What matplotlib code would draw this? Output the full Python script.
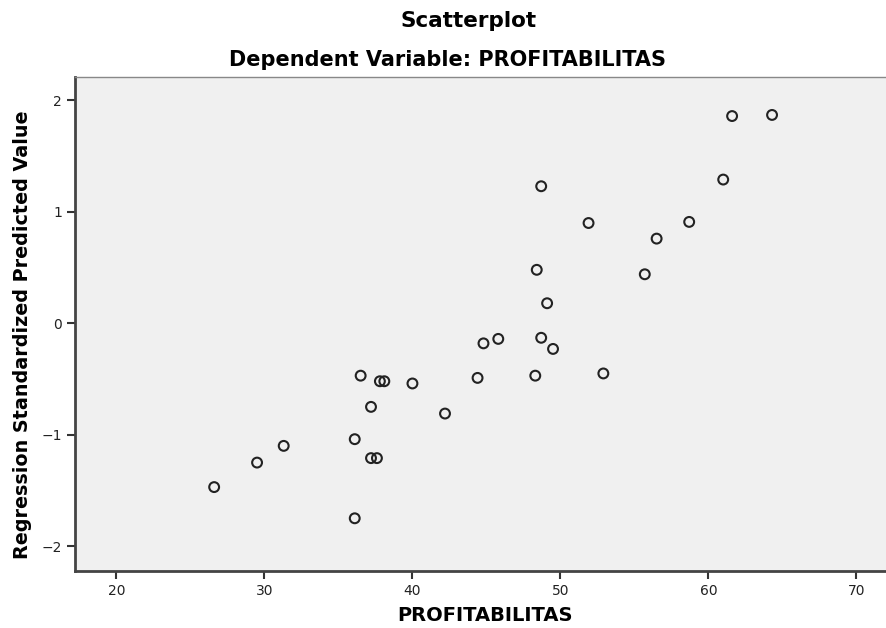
import numpy as np
import matplotlib.pyplot as plt

# PROFITABILITAS (x) vs regression standardized predicted value (y)
profit = [64.3, 61.6, 61.0, 48.7, 51.9, 58.7, 56.5, 48.4, 55.7, 49.1,
          45.8, 44.8, 48.7, 49.5, 44.4, 48.3, 52.9, 26.6, 29.5, 31.3,
          36.1, 36.1, 37.2, 37.6, 37.2, 42.2, 40.0, 37.8, 38.1, 36.5]
pred = [1.87, 1.86, 1.29, 1.23, 0.90, 0.91, 0.76, 0.48, 0.44, 0.18,
        -0.14, -0.18, -0.13, -0.23, -0.49, -0.47, -0.45, -1.47, -1.25, -1.10,
        -1.04, -1.75, -1.21, -1.21, -0.75, -0.81, -0.54, -0.52, -0.52, -0.47]

xticks = [20, 30, 40, 50, 60, 70]
yticks = [-2, -1, 0, 1, 2]

plt.rcParams['font.family'] = ['DejaVu Sans']

fig = plt.figure(figsize=(8.86, 6.28), dpi=100)
ax = fig.add_axes([0.0847, 0.0913, 0.9153, 0.786])
ax.set_facecolor('#f0f0f0')

ax.scatter(profit, pred, s=50, facecolors='none', edgecolors='#222222', linewidths=1.5)

ax.set_xlim(17.2, 72.0)
ax.set_ylim(-2.22, 2.21)
ax.set_xticks(xticks)
ax.set_yticks(yticks)
ax.set_xticklabels([str(t) for t in xticks])
ax.set_yticklabels([str(t).replace('-', '\u2212') for t in yticks])
ax.tick_params(direction='out', length=6, width=1.5, color='#333333',
               labelsize=10, labelcolor='#222222')

for side in ['left', 'bottom']:
    ax.spines[side].set_linewidth(2)
    ax.spines[side].set_color('#444444')
ax.spines['top'].set_color('#888888')
ax.spines['top'].set_linewidth(1)
ax.spines['right'].set_visible(False)

fig.text(0.529, 0.966, 'Scatterplot', ha='center', va='center',
         fontsize=15.5, fontweight='bold')
fig.text(0.505, 0.904, 'Dependent Variable: PROFITABILITAS', ha='center', va='center',
         fontsize=15, fontweight='bold')
ax.set_xlabel('PROFITABILITAS', fontsize=14, fontweight='bold')
ax.xaxis.set_label_coords(0.505, -0.071)
ax.set_ylabel('Regression Standardized Predicted Value', fontsize=13.8,
              fontweight='bold')
ax.yaxis.set_label_coords(-0.053, 0.477)

plt.savefig('out.png', dpi=100)
